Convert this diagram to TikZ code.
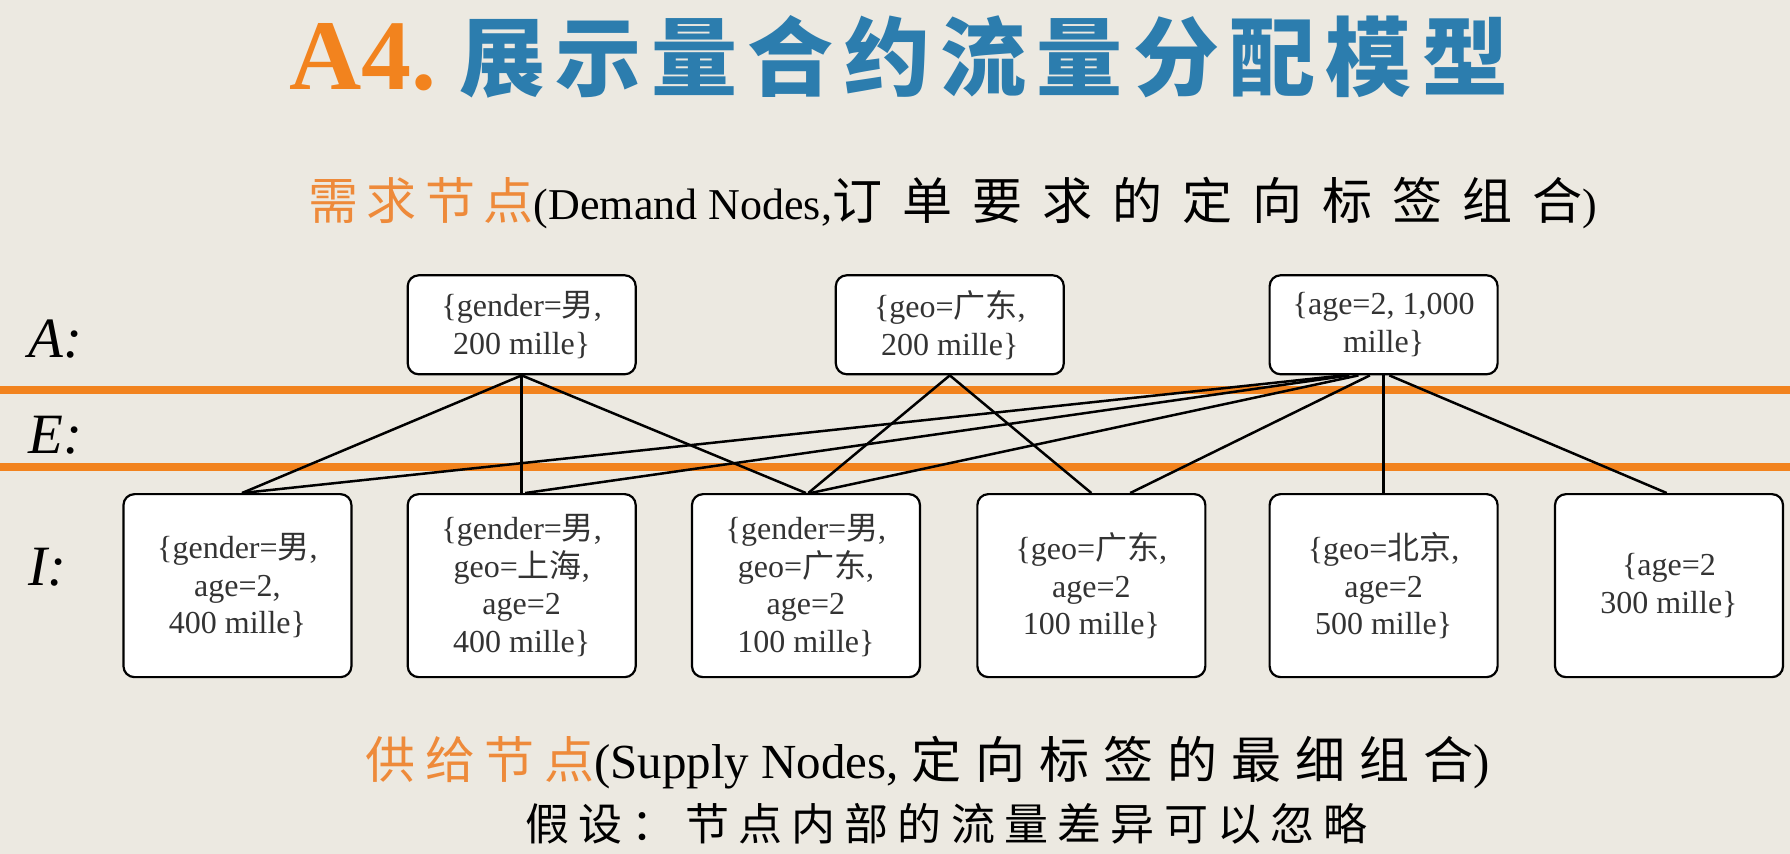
\documentclass[tikz,border=0pt]{standalone}
\usepackage{fontspec}
\setmainfont{Liberation Serif}
\newfontfamily\cjk{Noto Sans CJK SC}
\newfontfamily\cjkT[LetterSpace=12]{Noto Sans CJK SC}
\newfontfamily\cjkO[LetterSpace=17]{Noto Sans CJK SC}
\newfontfamily\cjkH[LetterSpace=40]{Noto Sans CJK SC}
\newfontfamily\cjkP[LetterSpace=19]{Noto Sans CJK SC}
\newfontfamily\cjkS[LetterSpace=28]{Noto Sans CJK SC}
\newfontfamily\cjkL[LetterSpace=21]{Noto Sans CJK SC}
\usetikzlibrary{calc}
\definecolor{bg}{HTML}{ECE9E1}
\definecolor{orng}{HTML}{F2831E}
\definecolor{orngtxt}{HTML}{EE8A3A}
\definecolor{ttlblue}{HTML}{2C7DAE}
\definecolor{txt}{HTML}{333333}
\tikzset{
  box/.style={draw=black, fill=white, line width=2.2pt, rounded corners=11pt,
    align=center, inner sep=0pt, minimum width=228pt, text=txt,
    font=\fontsize{32}{37.7}\selectfont},
  topbox/.style={box, minimum height=99pt},
  botbox/.style={box, minimum height=183pt},
  link/.style={line width=2.5pt, black},
  band/.style={line width=8pt, orng},
  lbl/.style={anchor=west, inner sep=0pt, font=\itshape\fontsize{57}{57}\selectfont},
  head/.style={anchor=west, inner sep=0pt}
}
\begin{document}
\begin{tikzpicture}[x=1.1416pt,y=-1.1416pt]
\fill[bg] (0,0) rectangle (1568,748);
\useasboundingbox (0,0) rectangle (1568,748);

% title
\node[head, text=orng, font=\bfseries\fontsize{100}{100}\selectfont] (tA) at (253,50) {A4.};
\node[head, text=ttlblue, font=\cjkT\bfseries\fontsize{86}{86}\selectfont] (tB) at (402,50) {展示量合约流量分配模型};

% heading 1
\node[head] (h1) at (270,178) {{\cjkO\fontsize{50}{50}\selectfont\color{orngtxt}需求节点}{\fontsize{44}{44}\selectfont(Demand Nodes,}{\cjkH\fontsize{50}{50}\selectfont 订单要求的定向标签组合}{\fontsize{44}{44}\selectfont)}};

% bands
\coordinate (b1l) at (0,342);
\coordinate (b1r) at (1568,342);
\coordinate (b2l) at (0,409);
\coordinate (b2r) at (1568,409);
\draw[band] (b1l) -- (b1r);
\draw[band] (b2l) -- (b2r);

% row labels
\node[lbl] (lA) at (25,297) {A:};
\node[lbl] (lE) at (25,381) {E:};
\node[lbl] (lI) at (25,497) {I:};

% demand nodes
\node[topbox] (A1) at (457,284.5) {\{gender={\cjk 男},\\200 mille\}};
\node[topbox] (A2) at (832,284.5) {\{geo={\cjk 广东},\\200 mille\}};
\node[topbox] (A3) at (1212,284.5) {\{age=2, 1,000\\mille\}};

% supply nodes
\node[botbox] (I1) at (208,513) {\{gender={\cjk 男},\\age=2,\\400 mille\}};
\node[botbox] (I2) at (457,513) {\{gender={\cjk 男},\\geo={\cjk 上海},\\age=2\\400 mille\}};
\node[botbox] (I3) at (706,513) {\{gender={\cjk 男},\\geo={\cjk 广东},\\age=2\\100 mille\}};
\node[botbox] (I4) at (956,513) {\{geo={\cjk 广东},\\age=2\\100 mille\}};
\node[botbox] (I5) at (1212,513) {\{geo={\cjk 北京},\\age=2\\500 mille\}};
\node[botbox] (I6) at (1462,513) {\{age=2\\300 mille\}};

% links
\draw[link] (A1.south) -- ($(I1.north)+(4,0)$);
\draw[link] (A1.south) -- (I2.north);
\draw[link] (A1.south) -- (I3.north);
\draw[link] (A2.south) -- ($(I3.north)+(2,0)$);
\draw[link] (A2.south) -- (I4.north);
\draw[link] ($(A3.south)+(-35,0)$) -- ($(I1.north)+(4,0)$);
\draw[link] ($(A3.south)+(-30,0)$) -- ($(I2.north)+(3,0)$);
\draw[link] ($(A3.south)+(-22,0)$) -- ($(I3.north)+(4,0)$);
\draw[link] ($(A3.south)+(-12,0)$) -- ($(I4.north)+(34,0)$);
\draw[link] (A3.south) -- (I5.north);
\draw[link] ($(A3.south)+(5,0)$) -- ($(I6.north)+(-2,0)$);

% heading 2 and note
\node[head] (h2) at (320,668) {{\cjkP\fontsize{50}{50}\selectfont\color{orngtxt}供给节点}{\fontsize{49}{49}\selectfont(Supply Nodes, }{\cjkS\fontsize{50}{50}\selectfont 定向标签的最细组合}{\fontsize{49}{49}\selectfont)}};
\node[head, font=\cjkL\fontsize{44}{44}\selectfont] (h3) at (460,722) {假设：节点内部的流量差异可以忽略};
\end{tikzpicture}
\end{document}
